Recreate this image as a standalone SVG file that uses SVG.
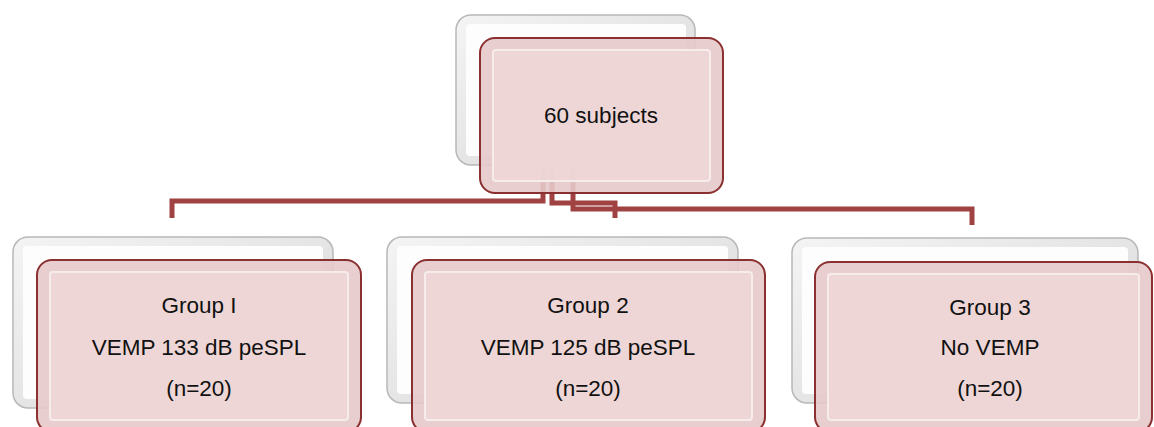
<svg xmlns="http://www.w3.org/2000/svg" width="1154" height="427" viewBox="0 0 1154 427">
<style>
.back{fill:url(#gWhite);stroke:#b8b8b8;stroke-width:1.5}
.backIn{fill:#fdfdfd;stroke:none}
.front{fill:#e6c9c9;fill-opacity:0.9;stroke:#8a3030;stroke-width:2}
.frontIn{fill:#eed7d7;fill-opacity:0.9;stroke:#f7ecec;stroke-width:2}
.conn{fill:none;stroke:#a04242;stroke-width:5;stroke-linejoin:miter}
.lbl{font-family:"Liberation Sans",Arial,sans-serif;font-size:22.5px;fill:#111;text-anchor:middle}
</style>
<defs>
<linearGradient id="gWhite" x1="0" y1="0" x2="1" y2="1">
<stop offset="0" stop-color="#f4f4f4"/>
<stop offset="1" stop-color="#d6d6d6"/>
</linearGradient>
</defs>
<rect width="1154" height="427" fill="#fff"/>
<g id="connectors">
<path class="conn" d="M543,168 V201 H172 V218"/>
<path class="conn" d="M552,168 V203 H615 V218"/>
<path class="conn" d="M573,168 V209 H972 V225"/>
</g>
<g id="n0">
<rect class="back" x="456" y="15" width="239" height="150" rx="15"/>
<rect class="backIn" x="466" y="24" width="220" height="132" rx="4"/>
<rect class="front" x="480" y="38" width="243" height="155" rx="15"/>
<rect class="frontIn" x="493" y="50" width="217" height="131" rx="3"/>
<text class="lbl" x="601" y="123">60 subjects</text>
</g>
<g id="n1">
<rect class="back" x="13" y="237" width="320" height="171" rx="15"/>
<rect class="backIn" x="23" y="246" width="300" height="153" rx="4"/>
<rect class="front" x="37" y="260" width="324" height="172" rx="15"/>
<rect class="frontIn" x="50" y="272" width="298" height="148" rx="3"/>
<text class="lbl" x="199" y="313">Group I</text>
<text class="lbl" x="199" y="355">VEMP 133 dB peSPL</text>
<text class="lbl" x="199" y="396">(n=20)</text>
</g>
<g id="n2">
<rect class="back" x="387" y="237" width="351" height="166" rx="15"/>
<rect class="backIn" x="397" y="246" width="331" height="148" rx="4"/>
<rect class="front" x="412" y="260" width="353" height="172" rx="15"/>
<rect class="frontIn" x="425" y="272" width="327" height="148" rx="3"/>
<text class="lbl" x="588" y="313">Group 2</text>
<text class="lbl" x="588" y="355">VEMP 125 dB peSPL</text>
<text class="lbl" x="588" y="396">(n=20)</text>
</g>
<g id="n3">
<rect class="back" x="792" y="238" width="346" height="165" rx="15"/>
<rect class="backIn" x="802" y="247" width="326" height="147" rx="4"/>
<rect class="front" x="815" y="262" width="337" height="170" rx="15"/>
<rect class="frontIn" x="828" y="274" width="311" height="146" rx="3"/>
<text class="lbl" x="990" y="315">Group 3</text>
<text class="lbl" x="990" y="355">No VEMP</text>
<text class="lbl" x="990" y="396">(n=20)</text>
</g>
</svg>
